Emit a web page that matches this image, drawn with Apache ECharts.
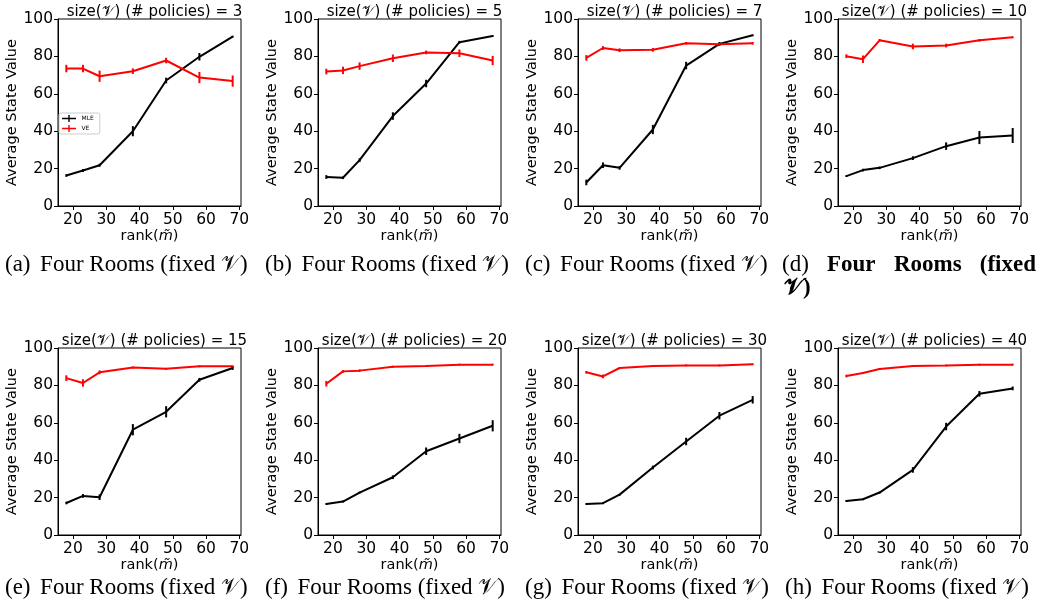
<!DOCTYPE html>
<html>
<head>
<meta charset="utf-8">
<script src="https://cdn.jsdelivr.net/npm/echarts@6/dist/echarts.min.js"></script>
<style>
  html, body { margin: 0; padding: 0; background: #fff; }
  #myChart { width: 1040px; height: 611px; }
</style>
</head>
<body>
<div id="myChart"></div>
<script>
// 数据
var ranks = [18, 23, 28, 38, 48, 58, 68];
var policies = [3, 5, 7, 10, 15, 20, 30, 40];
var letters = ['a', 'b', 'c', 'd', 'e', 'f', 'g', 'h'];
var xTicks = [20, 30, 40, 50, 60, 70];

var mleMean = [
    [16.3, 19.0, 21.8, 40.0, 67.1, 79.8, 90.6],
    [15.5, 15.1, 24.5, 48.1, 65.5, 87.6, 90.9],
    [12.6, 21.8, 20.4, 40.9, 75.1, 86.7, 91.3],
    [16.0, 19.2, 20.4, 25.6, 32.0, 36.6, 37.7],
    [17.1, 20.9, 20.2, 56.3, 65.9, 83.0, 89.3],
    [16.6, 17.9, 22.7, 30.9, 44.8, 51.6, 58.4],
    [16.6, 17.0, 21.6, 36.1, 50.0, 63.8, 72.3],
    [18.2, 19.1, 22.7, 34.8, 58.0, 75.5, 78.4]
];
var mleErr = [
    [0.7, 0.8, 0.8, 2.7, 1.5, 2.0, 0.5],
    [1.0, 0.7, 1.0, 2.0, 2.0, 0.7, 0.5],
    [1.5, 1.5, 1.0, 2.5, 2.0, 1.0, 0.5],
    [0.5, 0.7, 0.7, 1.0, 2.0, 3.5, 4.0],
    [0.7, 1.0, 1.5, 3.0, 3.0, 1.0, 1.0],
    [0.5, 0.5, 0.5, 1.0, 2.0, 2.5, 3.0],
    [0.5, 0.5, 0.5, 1.0, 2.0, 2.0, 2.0],
    [0.5, 0.5, 0.5, 1.5, 2.0, 1.5, 1.0]
];
var veMean = [
    [73.5, 73.5, 69.4, 72.1, 77.8, 68.7, 66.8],
    [71.9, 72.5, 74.8, 79.0, 82.1, 81.7, 77.8],
    [79.2, 84.5, 83.3, 83.5, 87.0, 86.5, 87.0],
    [80.1, 78.5, 88.6, 85.3, 85.8, 88.6, 90.2],
    [83.9, 81.3, 87.0, 89.6, 88.9, 90.2, 90.2],
    [80.9, 87.5, 87.9, 90.0, 90.4, 91.1, 91.1],
    [87.0, 84.8, 89.3, 90.4, 90.7, 90.7, 91.3],
    [85.0, 86.6, 88.8, 90.4, 90.7, 91.1, 91.1]
];
var veErr = [
    [2.0, 2.0, 3.0, 1.5, 1.5, 3.0, 3.0],
    [1.5, 2.0, 2.0, 2.0, 1.0, 2.0, 2.5],
    [1.5, 1.0, 1.0, 1.0, 0.7, 0.7, 0.7],
    [1.0, 2.0, 0.7, 1.5, 1.0, 0.7, 0.5],
    [1.5, 2.0, 1.0, 0.5, 0.5, 0.5, 0.5],
    [1.5, 0.7, 0.7, 0.5, 0.5, 0.5, 0.5],
    [0.7, 1.0, 0.5, 0.5, 0.5, 0.5, 0.5],
    [0.7, 0.5, 0.5, 0.5, 0.5, 0.5, 0.5]
];

var SANS = 'DejaVu Sans';
var SERIF = 'Liberation Serif';
var CAL_V = '\uD835\uDCB1';

_initChart();

function _initChart() {
    var myChart = echarts.init(document.getElementById('myChart'));
    var grids = [], xAxes = [], yAxes = [], titles = [], series = [], graphics = [];

    for (var i = 0; i < 8; i++) {
        var col = i % 4, row = Math.floor(i / 4);
        var left = 58 + col * 260;
        var top = row === 0 ? 19 : 348;
        grids.push({
            left: left, top: top, width: 183, height: 187,
            show: true, borderColor: '#000', borderWidth: 1,
            backgroundColor: 'transparent', containLabel: false
        });
        xAxes.push({
            type: 'value', gridIndex: i, min: 15.5, max: 70.5,
            name: 'rank({m|m\u0303})', nameLocation: 'middle', nameGap: 22,
            nameTextStyle: {
                fontFamily: SANS, fontSize: 14.5, color: '#000',
                rich: { m: { fontFamily: SANS, fontStyle: 'italic', fontSize: 14.5, color: '#000' } }
            },
            axisLine: { show: true, lineStyle: { color: '#000', width: 1 } },
            axisTick: { show: true, inside: false, length: 4, customValues: xTicks, lineStyle: { color: '#000' } },
            axisLabel: { customValues: xTicks, margin: 6, fontFamily: SANS, fontSize: 15.5, color: '#000' },
            splitLine: { show: false }
        });
        yAxes.push({
            type: 'value', gridIndex: i, min: 0, max: 100, interval: 20,
            name: 'Average State Value', nameLocation: 'middle', nameGap: 37,
            nameTextStyle: { fontFamily: SANS, fontSize: 14.5, color: '#000' },
            axisLine: { show: true, lineStyle: { color: '#000', width: 1 } },
            axisTick: { show: true, inside: false, length: 4, lineStyle: { color: '#000' } },
            axisLabel: { margin: 5, fontFamily: SANS, fontSize: 15.5, color: '#000' },
            splitLine: { show: false }
        });
        titles.push({
            text: 'size({v|' + CAL_V + '}) (# policies) = ' + policies[i],
            left: left + 91.5, top: top - 19, textAlign: 'center',
            textStyle: {
                fontFamily: SANS, fontSize: 15, fontWeight: 'normal', color: '#000',
                rich: { v: { fontFamily: SANS, fontSize: 15, color: '#000' } }
            }
        });

        var mleLine = [], mleBar = [], veLine = [], veBar = [];
        for (var k = 0; k < ranks.length; k++) {
            mleLine.push([ranks[k], mleMean[i][k]]);
            mleBar.push([ranks[k], mleMean[i][k] - mleErr[i][k], mleMean[i][k] + mleErr[i][k]]);
            veLine.push([ranks[k], veMean[i][k]]);
            veBar.push([ranks[k], veMean[i][k] - veErr[i][k], veMean[i][k] + veErr[i][k]]);
        }
        series.push(_line('MLE', '#000', mleLine, i));
        series.push(_errBar('MLE-err', '#000', mleBar, i));
        series.push(_line('VE', '#ff0000', veLine, i));
        series.push(_errBar('VE-err', '#ff0000', veBar, i));

        // 图注
        var capY = row === 0 ? 265 : 588;
        var capX = 5 + col * 260;
        if (i === 3) {
            graphics.push(_cap('(d)', 782, capY, 'normal', 'left'));
            graphics.push(_cap('Four', 827, capY, 'bold', 'left'));
            graphics.push(_cap('Rooms', 894, capY, 'bold', 'left'));
            graphics.push(_cap('(fixed', 1036, capY, 'bold', 'right'));
            graphics.push(_cap(CAL_V + ')', 784, capY + 23, 'bold', 'left'));
        } else {
            graphics.push(_cap('(' + letters[i] + ')\u2006 Four Rooms (fixed ' + CAL_V + ')', capX, capY, 'normal', 'left'));
        }
    }

    var option = {
        animation: false,
        backgroundColor: '#fff',
        title: titles,
        grid: grids,
        xAxis: xAxes,
        yAxis: yAxes,
        legend: {
            data: [
                { name: 'MLE', icon: 'path://M0,4H9V0H11V4H20V6H11V10H9V6H0Z' },
                { name: 'VE', icon: 'path://M0,4H9V0H11V4H20V6H11V10H9V6H0Z' }
            ],
            orient: 'vertical', left: 59, top: 113,
            itemWidth: 15, itemHeight: 7, itemGap: 3,
            padding: [2, 6, 2, 3],
            borderColor: '#ccc', borderWidth: 1, borderRadius: 2,
            backgroundColor: '#fff',
            textStyle: { fontFamily: SANS, fontSize: 6, color: '#000' },
            selectedMode: false
        },
        graphic: graphics,
        series: series
    };
    myChart.setOption(option);
}

function _line(name, color, data, idx) {
    return {
        name: name, type: 'line', xAxisIndex: idx, yAxisIndex: idx,
        data: data, symbol: 'none', silent: true,
        itemStyle: { color: color },
        lineStyle: { color: color, width: 2 },
        z: 3
    };
}

function _errBar(name, color, data, idx) {
    return {
        name: name, type: 'custom', xAxisIndex: idx, yAxisIndex: idx,
        data: data, silent: true, z: 4,
        renderItem: function (params, api) {
            var p1 = api.coord([api.value(0), api.value(1)]);
            var p2 = api.coord([api.value(0), api.value(2)]);
            return {
                type: 'line',
                shape: { x1: p1[0], y1: p1[1], x2: p2[0], y2: p2[1] },
                style: { stroke: color, lineWidth: 2 }
            };
        }
    };
}

function _cap(text, x, y, weight, align) {
    return {
        type: 'text', x: x, y: y, silent: true,
        style: {
            text: text, fill: '#000',
            font: weight + ' 23px "' + SERIF + '"',
            textVerticalAlign: 'middle', textAlign: align
        }
    };
}
</script>
</body>
</html>
